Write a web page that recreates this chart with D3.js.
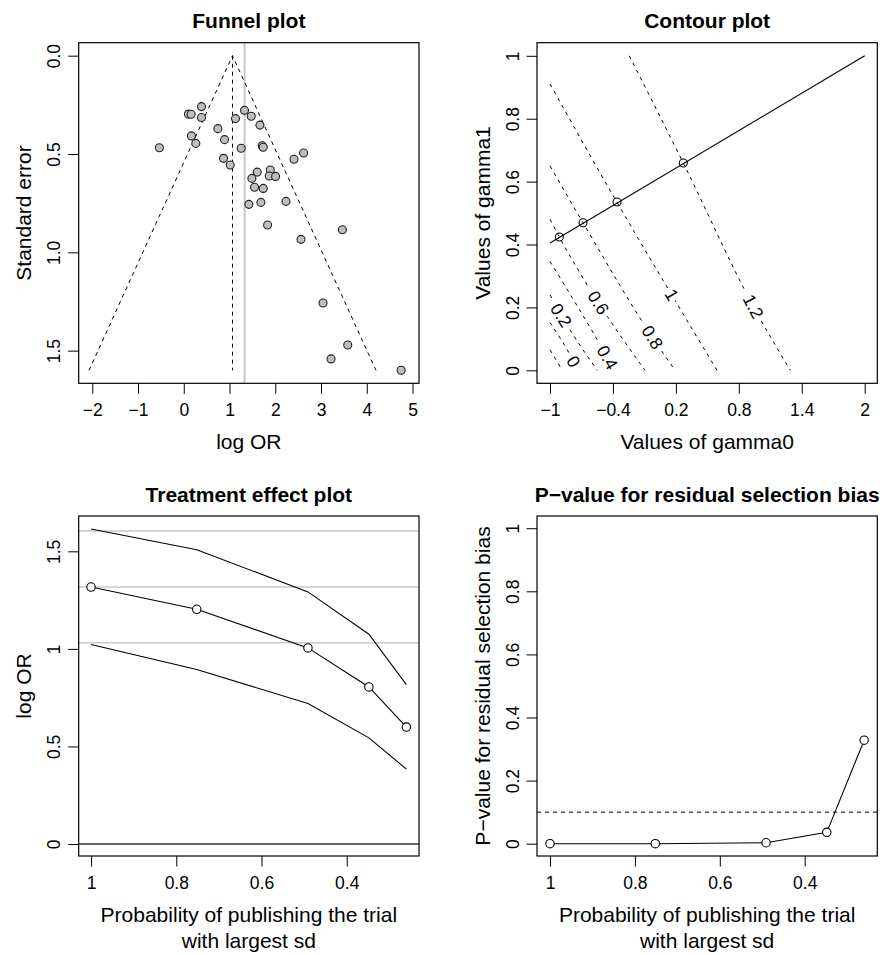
<!DOCTYPE html>
<html>
<head>
<meta charset="utf-8">
<script src="https://cdn.jsdelivr.net/npm/d3@7"></script>
<style>
  body { margin: 0; background: #fff; }
  svg { display: block; font-family: "Liberation Sans", Arial, Helvetica, sans-serif; }
</style>
</head>
<body>
<svg id="chart" width="889" height="955"></svg>
<script>
// ---- Funnel plot data (log OR vs standard error) ----
const funnelLogOR = [-0.533, 0.102, 0.161, 0.387, 0.387, 0.168, 0.263, 0.745, 0.891, 0.869,
  1.015, 1.131, 1.328, 1.474, 1.664, 1.255, 1.715, 1.737, 2.409, 2.620,
  1.606, 1.489, 1.891, 1.869, 2.007, 1.547, 1.737, 1.423, 1.686, 2.234,
  1.832, 2.562, 3.467, 3.044, 3.584, 3.219, 4.752];
const funnelSE = [0.468, 0.297, 0.298, 0.259, 0.314, 0.408, 0.446, 0.371, 0.427, 0.522,
  0.556, 0.320, 0.278, 0.308, 0.353, 0.471, 0.458, 0.466, 0.527, 0.495,
  0.592, 0.624, 0.581, 0.612, 0.614, 0.669, 0.675, 0.756, 0.746, 0.741,
  0.861, 0.934, 0.885, 1.258, 1.471, 1.542, 1.600];
const funnelCentre = 1.065;   // fixed-effect estimate (apex)
const funnelMaxSE = 1.6;
const pooledLogOR = 1.33;     // grey reference line
const funnelXTicks = [-2, -1, 0, 1, 2, 3, 4, 5];
const funnelYTicks = [0, 0.5, 1, 1.5];

// ---- Contour plot data ----
const contourLevels = [-0.2, 0, 0.2, 0.4, 0.6, 0.8, 1, 1.2];
const contourLines = [
  [[-1, 0.065], [-0.882, 0]],
  [[-1, 0.152], [-0.775, 0.028], [-0.733, 0]],
  [[-1, 0.240], [-0.893, 0.175], [-0.549, 0]],
  [[-1, 0.346], [-0.453, 0.041], [-0.384, 0]],
  [[-1, 0.480], [-0.911, 0.424], [-0.539, 0.215], [-0.094, 0]],
  [[-1, 0.650], [-0.685, 0.469], [-0.024, 0.105], [0.192, 0]],
  [[-1, 0.910], [-0.361, 0.534], [0.160, 0.240], [0.592, 0]],
  [[-0.244, 1.0], [0.271, 0.659], [0.938, 0.203], [1.291, 0]]
];
// index of the point in each line where the level label sits (null = no label)
const contourLabelAt = [null, 1, 1, 1, 2, 2, 2, 2];
const gammaPath0 = [-1, 2];
const gammaPath1 = [0.405, 1.0];
const gammaPts0 = [-0.911, -0.685, -0.361, 0.271];
const gammaPts1 = [0.424, 0.469, 0.535, 0.659];
const contourXTicks = [-1, -0.4, 0.2, 0.8, 1.4, 2];
const contourYTicks = [0, 0.2, 0.4, 0.6, 0.8, 1];

// ---- Treatment effect / p-value data ----
const probPublish = [1, 0.752, 0.491, 0.348, 0.26];
const teEstimate = [1.317, 1.203, 1.005, 0.805, 0.599];
const teUpper = [1.614, 1.508, 1.292, 1.075, 0.817];
const teLower = [1.022, 0.894, 0.720, 0.544, 0.384];
const teReference = [1.032, 1.317, 1.604];
const residualP = [0, 0, 0.003, 0.036, 0.328];
const pThreshold = 0.1;
const probTicks = [1, 0.8, 0.6, 0.4];
const teYTicks = [0, 0.5, 1, 1.5];
const pYTicks = [0, 0.2, 0.4, 0.6, 0.8, 1];

const TICK = 17.5, LAB = 21, MAIN = 21;
const svg = d3.select("#chart");

const minus = d => String(d).replace("-", "\u2212");

function panel(box, xDom, yDom, o) {
  const g = svg.append("g");
  const x = d3.scaleLinear().domain(xDom).range([box.x0, box.x1]);
  const y = d3.scaleLinear().domain(yDom).range([box.y1, box.y0]);

  const ax = g.append("g").attr("transform", `translate(0,${box.y1})`)
    .call(d3.axisBottom(x).tickValues(o.xTicks).tickFormat(o.xFmt || minus).tickSize(10.5).tickSizeOuter(0));
  ax.select(".domain").remove();
  ax.attr("font-family", null).attr("font-size", null);
  ax.selectAll("line").attr("stroke", "#000");
  ax.selectAll("text").attr("y", 33).attr("dy", null).attr("font-size", TICK).attr("fill", "#000");

  const ay = g.append("g").attr("transform", `translate(${box.x0},0)`)
    .call(d3.axisLeft(y).tickValues(o.yTicks).tickFormat(o.yFmt || minus).tickSize(10.5).tickSizeOuter(0));
  ay.select(".domain").remove();
  ay.attr("font-family", null).attr("font-size", null);
  ay.selectAll("line").attr("stroke", "#000");
  ay.selectAll("text").attr("x", 0).attr("dy", null).attr("text-anchor", "middle")
    .attr("transform", "translate(-18.5,0) rotate(-90)").attr("font-size", TICK).attr("fill", "#000");

  g.append("text").attr("x", (box.x0 + box.x1) / 2).attr("y", box.y0 - 14.5)
    .attr("text-anchor", "middle").attr("font-weight", "bold").attr("font-size", MAIN).text(o.title);

  o.xLabel.forEach((t, i) => {
    g.append("text").attr("x", (box.x0 + box.x1) / 2).attr("y", box.y1 + 65.5 + i * 26.7)
      .attr("text-anchor", "middle").attr("font-size", LAB).text(t);
  });
  g.append("text").attr("transform", `translate(${box.x0 - 47.5},${(box.y0 + box.y1) / 2}) rotate(-90)`)
    .attr("text-anchor", "middle").attr("font-size", LAB).text(o.yLabel);

  const plot = g.append("g");
  g.append("rect").attr("x", box.x0).attr("y", box.y0)
    .attr("width", box.x1 - box.x0).attr("height", box.y1 - box.y0)
    .attr("fill", "none").attr("stroke", "#000").attr("stroke-width", 1.2);
  return { plot, x, y, box };
}

// ---------------- Funnel plot ----------------
{
  const p = panel({ x0: 78.7, x1: 419, y0: 42.7, y1: 383.3 }, [-2.297, 5.142], [1.666, -0.066], {
    title: "Funnel plot", xLabel: ["log OR"], yLabel: "Standard error",
    xTicks: funnelXTicks, yTicks: funnelYTicks, yFmt: d3.format(".1f")
  });
  const { plot, x, y, box } = p;
  plot.append("line").attr("x1", x(pooledLogOR)).attr("x2", x(pooledLogOR))
    .attr("y1", box.y0).attr("y2", box.y1).attr("stroke", "#c8c8c8").attr("stroke-width", 2);
  const half = 1.96 * funnelMaxSE;
  const tri = [[funnelCentre - half, funnelMaxSE], [funnelCentre, 0], [funnelCentre + half, funnelMaxSE]];
  plot.append("path").attr("d", d3.line().x(d => x(d[0])).y(d => y(d[1]))(tri))
    .attr("fill", "none").attr("stroke", "#000").attr("stroke-dasharray", "4,4");
  plot.append("line").attr("x1", x(funnelCentre)).attr("x2", x(funnelCentre))
    .attr("y1", y(0)).attr("y2", y(funnelMaxSE)).attr("stroke", "#000").attr("stroke-dasharray", "4,4");
  plot.selectAll("circle.pt").data(funnelLogOR).join("circle").attr("class", "pt")
    .attr("cx", d => x(d)).attr("cy", (d, i) => y(funnelSE[i])).attr("r", 4)
    .attr("fill", "#bebebe").attr("stroke", "#222").attr("stroke-width", 1.1);
}

// ---------------- Contour plot ----------------
{
  const p = panel({ x0: 537, x1: 877.3, y0: 42.7, y1: 383.3 }, [-1.124, 2.12], [-0.0413, 1.0417], {
    title: "Contour plot", xLabel: ["Values of gamma0"], yLabel: "Values of gamma1",
    xTicks: contourXTicks, yTicks: contourYTicks
  });
  const { plot, x, y } = p;
  const line = d3.line().x(d => x(d[0])).y(d => y(d[1])).curve(d3.curveMonotoneX);
  contourLines.forEach(pts => {
    plot.append("path").attr("d", line(pts)).attr("fill", "none")
      .attr("stroke", "#000").attr("stroke-dasharray", "3.5,4.5");
  });
  contourLines.forEach((pts, i) => {
    const k = contourLabelAt[i];
    if (k === null) return;
    const a = pts[k - 1], b = pts[k + 1];
    const ang = Math.atan2(y(b[1]) - y(a[1]), x(b[0]) - x(a[0])) * 180 / Math.PI;
    const lab = plot.append("g").attr("transform", `translate(${x(pts[k][0])},${y(pts[k][1])}) rotate(${ang})`);
    const txt = minus(contourLevels[i]);
    const w = txt.length * 9.5 + 4;
    lab.append("rect").attr("x", -w / 2).attr("y", -7).attr("width", w).attr("height", 14).attr("fill", "#fff");
    lab.append("text").attr("text-anchor", "middle").attr("dy", "0.35em").attr("font-size", TICK).text(txt);
  });
  const path = gammaPath0.map((g0, i) => [g0, gammaPath1[i]]);
  plot.append("path").attr("d", d3.line().x(d => x(d[0])).y(d => y(d[1]))(path))
    .attr("fill", "none").attr("stroke", "#000").attr("stroke-width", 1.1);
  plot.selectAll("circle.pt").data(gammaPts0).join("circle").attr("class", "pt")
    .attr("cx", d => x(d)).attr("cy", (d, i) => y(gammaPts1[i])).attr("r", 4)
    .attr("fill", "none").attr("stroke", "#000").attr("stroke-width", 1.1);
}

// ---------------- Treatment effect plot ----------------
{
  const p = panel({ x0: 78.7, x1: 419, y0: 516, y1: 856 }, [1.029, 0.2304], [-0.0615, 1.681], {
    title: "Treatment effect plot", xLabel: ["Probability of publishing the trial", "with largest sd"],
    yLabel: "log OR", xTicks: probTicks, yTicks: teYTicks
  });
  const { plot, x, y, box } = p;
  teReference.forEach(v => {
    plot.append("line").attr("x1", box.x0).attr("x2", box.x1).attr("y1", y(v)).attr("y2", y(v))
      .attr("stroke", "#c8c8c8").attr("stroke-width", 1.5);
  });
  plot.append("line").attr("x1", box.x0).attr("x2", box.x1).attr("y1", y(0)).attr("y2", y(0))
    .attr("stroke", "#333").attr("stroke-width", 1.5);
  const line = d3.line().x((d, i) => x(probPublish[i])).y(d => y(d));
  [teUpper, teEstimate, teLower].forEach(s => {
    plot.append("path").attr("d", line(s)).attr("fill", "none").attr("stroke", "#000").attr("stroke-width", 1.1);
  });
  plot.selectAll("circle.pt").data(teEstimate).join("circle").attr("class", "pt")
    .attr("cx", (d, i) => x(probPublish[i])).attr("cy", d => y(d)).attr("r", 4.2)
    .attr("fill", "#fff").attr("stroke", "#000").attr("stroke-width", 1.1);
}

// ---------------- P-value plot ----------------
{
  const p = panel({ x0: 537, x1: 877.3, y0: 516, y1: 856 }, [1.0306, 0.229], [-0.039, 1.0387], {
    title: "P\u2212value for residual selection bias", xLabel: ["Probability of publishing the trial", "with largest sd"],
    yLabel: "P\u2212value for residual selection bias", xTicks: probTicks, yTicks: pYTicks
  });
  const { plot, x, y, box } = p;
  plot.append("line").attr("x1", box.x0).attr("x2", box.x1).attr("y1", y(pThreshold)).attr("y2", y(pThreshold))
    .attr("stroke", "#000").attr("stroke-dasharray", "4,4");
  const line = d3.line().x((d, i) => x(probPublish[i])).y(d => y(d));
  plot.append("path").attr("d", line(residualP)).attr("fill", "none").attr("stroke", "#000").attr("stroke-width", 1.1);
  plot.selectAll("circle.pt").data(residualP).join("circle").attr("class", "pt")
    .attr("cx", (d, i) => x(probPublish[i])).attr("cy", d => y(d)).attr("r", 4.2)
    .attr("fill", "#fff").attr("stroke", "#000").attr("stroke-width", 1.1);
}
</script>
</body>
</html>
